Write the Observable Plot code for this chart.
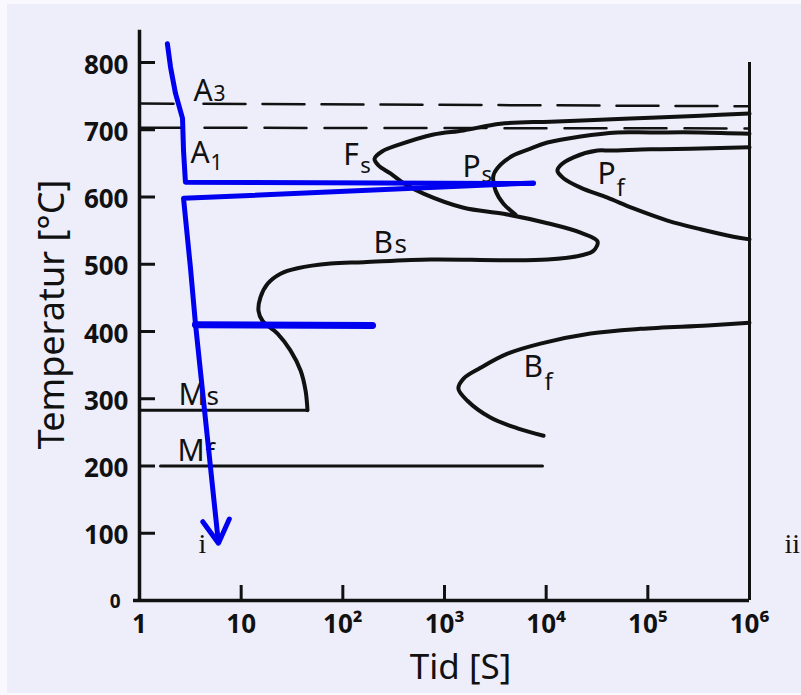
<!DOCTYPE html>
<html><head><meta charset="utf-8">
<script src="https://cdn.jsdelivr.net/npm/d3@7"></script>
<script src="https://cdn.jsdelivr.net/npm/@observablehq/plot@0.6"></script>
<style>
html,body{margin:0;padding:0;background:#f8f8fe;}
#wrap{padding:4px 0 0 7px;width:794px;}
svg{display:block}
</style></head><body><div id="wrap"></div>
<script>
// ---- tick values / labels ----
const yLabelValues = [100, 200, 300, 400, 500, 600, 700, 800];
const yLabelTexts = ["100", "200", "300", "400", "500", "600", "700", "800"];
const yZero = [0];
const yTickMarks = [100, 200, 300, 400, 500, 600, 700, 800];
const xLabelValues = [1, 10, 100, 1e3, 1e4, 1e5, 1e6];
const xLabelTexts = ["1", "10", "10²", "10³", "10⁴", "10⁵", "10⁶"];
const xTickMarks = [10, 100, 1e3, 1e4, 1e5];
const yTitle = ["Temperatur [°C]"];
const xTitle = ["Tid [S]"];

// ---- axis frame lines (time s, temperature °C) ----
const leftAxis = [{t: 1, top: 848}];
const rightAxis = [{t: 1e6, top: 800}];
const bottomAxis = [{from: 0.873, to: 1e6}];

// ---- A3 / A1 dashed lines ----
const lineA3 = [[1, 739], [1e6, 735]];
const lineA1 = [[1, 703], [1e6, 702]];

// ---- transformation curves [time s, temperature °C] ----
const outerCurve = [
  [1e6, 724], [3.3e5, 721], [1.06e5, 718], [34200, 715], [11000, 712], [3550, 709],
  [1540, 699], [780, 693], [345, 677], [245, 668], [205, 657], [224, 647], [294, 635],
  [413, 619], [621, 605], [1540, 584], [3800, 575], [10300, 561], [21800, 547],
  [32000, 534], [29200, 520], [21800, 513], [10300, 507], [3560, 506], [728, 507],
  [160, 503], [75.7, 501], [35.8, 494], [24.4, 486], [18.2, 471], [15.5, 451],
  [14.8, 431], [16.2, 416], [22.8, 397], [30.5, 372], [38.4, 342], [43.0, 312], [44.9, 283]
];
const pearliteStart = [
  [1e6, 694], [3.3e5, 696], [1.06e5, 696], [50000, 696], [21800, 690], [10300, 681],
  [7010, 672], [4770, 662], [3560, 648], [3030, 632], [3170, 610], [3800, 590], [4990, 574]
];
const pearliteFinish = [
  [1e6, 674], [3.3e5, 672], [1.06e5, 671], [42900, 669], [32000, 669], [18600, 659],
  [13800, 647], [12900, 639], [14800, 628], [21800, 614], [40100, 599], [72300, 583],
  [156000, 565], [330000, 552], [695000, 541], [1e6, 537]
];
const bainiteFinish = [
  [1e6, 413], [386000, 409], [84700, 404], [27300, 397], [8790, 382], [4170, 367],
  [2260, 346], [1540, 330], [1370, 315], [1680, 297], [2830, 272], [5220, 256], [9420, 245]
];
const martensiteStart = [[44.9, 283], [1, 283]];
const martensiteFinish = [[1.61, 200], [9200, 200]];

// ---- blue cooling paths ----
const cooling1 = [[1.88, 828], [2.02, 793], [2.26, 754], [2.65, 717], [2.71, 669], [2.83, 622], [7500, 620]];
const cooling2 = [[7500, 621], [2.71, 598], [3.17, 495], [3.55, 412]];
const cooling3 = [[3.55, 410], [196, 409]];
const coolingArrow = [{t1: 3.55, T1: 412, t2: 5.98, T2: 85}];

// ---- labels ----
const curveLabels = [
  {id: "A3", main: "A", sub: "3", t: 3.40, T: 743},
  {id: "A1", main: "A", sub: "1", t: 3.17, T: 650},
  {id: "Fs", main: "F", sub: "s", t: 101, T: 647},
  {id: "Ps", main: "P", sub: "s", t: 1500, T: 629},
  {id: "Pf", main: "P", sub: "f", t: 32000, T: 620},
  {id: "Bs", main: "B", sub: "s", t: 200, T: 516},
  {id: "Bf", main: "B", sub: "f", t: 5980, T: 332},
  {id: "Ms", main: "M", sub: "s", t: 2.42, T: 290},
  {id: "Mf", main: "M", sub: "f", t: 2.36, T: 208}
];
const romanLabels = [{text: "i", t: 3.80, T: 71}, {text: "ii", t: 2.21e6, T: 71}];

// ---- styles ----
const subStyle = {
  A3: {dx: 20, dy: 0, size: 21}, A1: {dx: 20, dy: 7, size: 21},
  Fs: {dx: 17, dy: 8, size: 22}, Ps: {dx: 19, dy: 5, size: 22},
  Pf: {dx: 19, dy: 12, size: 24}, Bs: {dx: 21, dy: 0, size: 26},
  Bf: {dx: 21, dy: 13, size: 24}, Ms: {dx: 28, dy: 0, size: 26},
  Mf: {dx: 28, dy: 2, size: 27}
};
const INK = "#111";
const BLUE = "#0000f0";
const FONT = "Noto Sans, DejaVu Sans, sans-serif";

const W = 794, H = 689, ML = 132, MR = 52, MT = 58, MB = 93;
const frameW = W - ML - MR, frameH = H - MT - MB;

const X = d => d[0], Y = d => d[1];

const marks = [
  // axes
  Plot.ruleX(leftAxis, {x: "t", y1: 0, y2: "top", stroke: INK, strokeWidth: 3.5}),
  Plot.ruleX(rightAxis, {x: "t", y1: 0, y2: "top", stroke: INK, strokeWidth: 3}),
  Plot.ruleY(bottomAxis, {y: 0, x1: "from", x2: "to", stroke: INK, strokeWidth: 3.5}),
  Plot.ruleY(yTickMarks, {y: d => d, insetRight: frameW - 16, stroke: INK, strokeWidth: 3}),
  Plot.ruleX(xTickMarks, {x: d => d, insetTop: frameH - 15, stroke: INK, strokeWidth: 3}),
  // dashed A3 / A1
  Plot.line(lineA3, {x: X, y: Y, stroke: INK, strokeWidth: 2.5,
    strokeDasharray: "34,30" + ",42,17".repeat(11)}),
  Plot.line(lineA1, {x: X, y: Y, stroke: INK, strokeWidth: 2.5,
    strokeDasharray: "41,24" + ",42,18".repeat(11)}),
  // curves
  Plot.line(outerCurve, {x: X, y: Y, curve: "catmull-rom", stroke: INK, strokeWidth: 4, strokeLinecap: "round"}),
  Plot.line(pearliteStart, {x: X, y: Y, curve: "catmull-rom", stroke: INK, strokeWidth: 4, strokeLinecap: "round"}),
  Plot.line(pearliteFinish, {x: X, y: Y, curve: "catmull-rom", stroke: INK, strokeWidth: 4, strokeLinecap: "round"}),
  Plot.line(bainiteFinish, {x: X, y: Y, curve: "catmull-rom", stroke: INK, strokeWidth: 4, strokeLinecap: "round"}),
  Plot.line(martensiteStart, {x: X, y: Y, stroke: INK, strokeWidth: 3}),
  Plot.line(martensiteFinish, {x: X, y: Y, stroke: INK, strokeWidth: 3}),
  // curve labels
  Plot.text(curveLabels, {x: "t", y: "T", text: "main", textAnchor: "start", lineAnchor: "bottom",
    fontSize: 30, fontFamily: FONT, fill: INK}),
  ...curveLabels.map(l => Plot.text([l], {x: "t", y: "T", text: "sub", textAnchor: "start", lineAnchor: "bottom",
    dx: subStyle[l.id].dx, dy: subStyle[l.id].dy, fontSize: subStyle[l.id].size, fontFamily: FONT, fill: INK})),
  // tick labels
  Plot.text(yLabelValues, {y: d => d, text: (d, i) => yLabelTexts[i], frameAnchor: "left", textAnchor: "end",
    lineAnchor: "bottom", dx: -11, dy: 11, fontSize: 26, fontWeight: "bold", fontFamily: FONT, fill: INK}),
  Plot.text(yZero, {y: d => d, text: d => String(d), frameAnchor: "left", textAnchor: "end",
    lineAnchor: "bottom", dx: -19, dy: 7, fontSize: 19, fontWeight: "bold", fontFamily: FONT, fill: INK}),
  Plot.text(xLabelValues, {x: d => d, text: (d, i) => xLabelTexts[i], frameAnchor: "bottom", textAnchor: "middle",
    lineAnchor: "bottom", dy: 32, fontSize: 26, fontWeight: "bold", fontFamily: FONT, fill: INK}),
  // axis titles
  Plot.text(yTitle, {text: d => d, frameAnchor: "left", rotate: -90, textAnchor: "middle", lineAnchor: "bottom",
    dx: -76, dy: -17, fontSize: 36, fontFamily: FONT, fill: INK}),
  Plot.text(xTitle, {text: d => d, frameAnchor: "bottom", textAnchor: "middle", lineAnchor: "bottom",
    dx: 16, dy: 78, fontSize: 35, fontFamily: FONT, fill: INK}),
  // blue cooling paths
  Plot.line(cooling1, {x: X, y: Y, stroke: BLUE, strokeWidth: 5, strokeLinecap: "round", strokeLinejoin: "round"}),
  Plot.line(cooling2, {x: X, y: Y, stroke: BLUE, strokeWidth: 5, strokeLinecap: "round", strokeLinejoin: "round"}),
  Plot.line(cooling3, {x: X, y: Y, stroke: BLUE, strokeWidth: 7, strokeLinecap: "round"}),
  Plot.arrow(coolingArrow, {x1: "t1", y1: "T1", x2: "t2", y2: "T2", stroke: BLUE, strokeWidth: 5, headLength: 8}),
  // roman labels
  Plot.text(romanLabels, {x: "t", y: "T", text: "text", textAnchor: "start", lineAnchor: "bottom",
    fontSize: 28, fontFamily: "Liberation Serif, DejaVu Serif, serif", fill: INK})
];

const chart = Plot.plot({
  width: W, height: H,
  marginLeft: ML, marginRight: MR, marginTop: MT, marginBottom: MB,
  x: {type: "log", domain: [1, 1e6], axis: null},
  y: {domain: [0, 800], axis: null},
  style: {background: "#eeeefa", overflow: "visible"},
  marks
});
document.getElementById("wrap").append(chart);
</script>
</body></html>
